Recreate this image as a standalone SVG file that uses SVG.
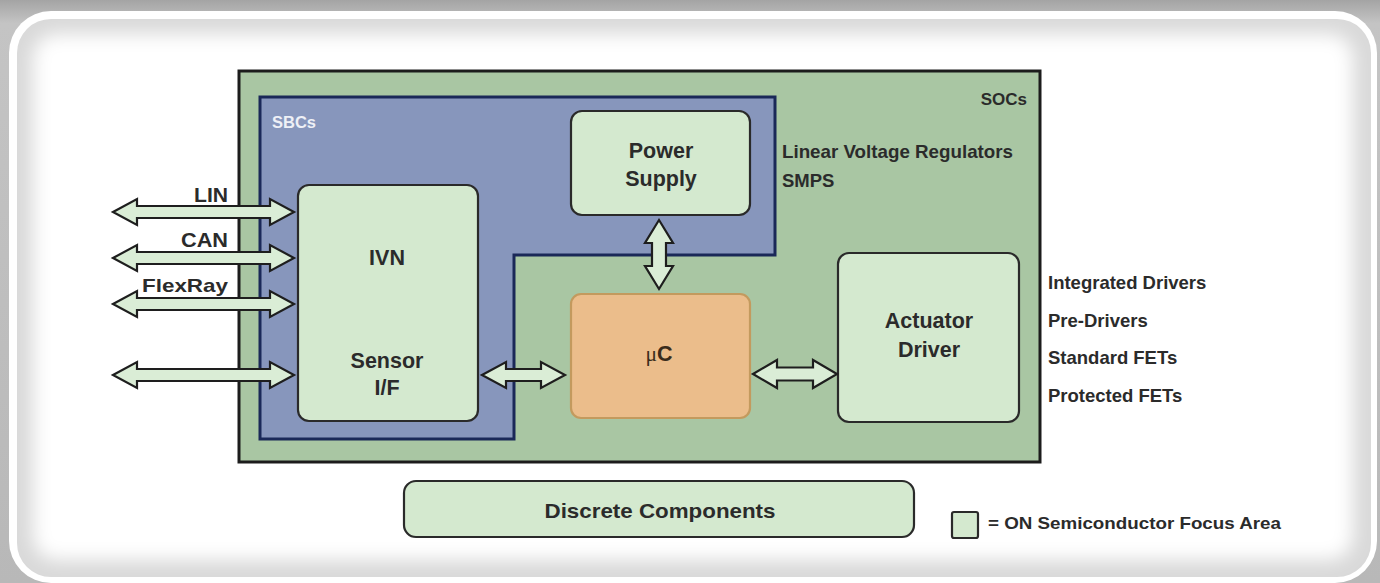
<svg xmlns="http://www.w3.org/2000/svg" width="1380" height="583" viewBox="0 0 1380 583">
<defs>
<linearGradient id="bgGray" x1="0" y1="0" x2="0" y2="1">
<stop offset="0" stop-color="#a4a4a4"/>
<stop offset="0.04" stop-color="#c4c4c4"/>
<stop offset="1" stop-color="#b8b8b8"/>
</linearGradient>
<filter id="soft" x="-10%" y="-10%" width="120%" height="120%">
<feGaussianBlur stdDeviation="9"/>
</filter>
<style>
.t{font-family:"Liberation Sans",Arial,sans-serif;font-weight:bold;fill:#2b2b2b}
.lbl{font-size:18.5px}
.box{font-size:21.5px;text-anchor:middle}
.soc{fill:#a9c6a3;stroke:#1c1c1c;stroke-width:3}
.sbc{fill:#8796bc;stroke:#1a2858;stroke-width:3}
.node{fill:#d4e9cf;stroke:#2a2a2a;stroke-width:2.2}
.mc{fill:#ebbd8b;stroke:#c39a5e;stroke-width:2.2}
.arr{fill:#daedd6;stroke:#1e1e1e;stroke-width:2.2;stroke-linejoin:miter}
</style>
</defs>

<!-- frame -->
<rect x="0" y="0" width="1380" height="583" fill="url(#bgGray)"/>
<rect x="9" y="11" width="1368" height="572" rx="42" fill="#ffffff"/>
<rect x="17" y="19" width="1354" height="558" rx="34" fill="#d9d9d9"/>
<rect x="33" y="34" width="1320" height="526" rx="24" fill="#ffffff" filter="url(#soft)"/>

<!-- containers -->
<g id="socs">
<rect class="soc" x="239" y="71" width="801" height="391"/>
<text class="t" x="1027" y="105" font-size="17" text-anchor="end">SOCs</text>
</g>
<g id="sbcs">
<polygon class="sbc" points="260,97 775,97 775,255 514,255 514,439 260,439"/>
<text class="t" x="272" y="128" font-size="16.5" style="fill:#eef0f6">SBCs</text>
</g>

<g id="ivn">
<rect class="node" x="298" y="185" width="180" height="236" rx="11"/>
<text class="t box" x="387" y="265">IVN</text>
<text class="t box" x="387" y="368">Sensor</text>
<text class="t box" x="387" y="395">I/F</text>
</g>

<g id="power-supply">
<rect class="node" x="571" y="111" width="179" height="104" rx="11"/>
<text class="t box" x="661" y="158">Power</text>
<text class="t box" x="661" y="186">Supply</text>
</g>

<g id="uc">
<rect class="mc" x="571" y="294" width="179" height="124" rx="10"/>
<text class="t box" x="659" y="361" style="fill:#3a2c1c"><tspan font-weight="normal" font-family="'Liberation Serif',serif">μ</tspan>C</text>
</g>

<g id="actuator-driver">
<rect class="node" x="838" y="253" width="181" height="169" rx="11"/>
<text class="t box" x="929" y="328">Actuator</text>
<text class="t box" x="929" y="357">Driver</text>
</g>

<g id="discrete-components">
<rect class="node" x="404" y="481" width="510" height="56" rx="12"/>
<text class="t" x="660" y="518" font-size="21" text-anchor="middle" textLength="231" lengthAdjust="spacingAndGlyphs">Discrete Components</text>
</g>

<g id="legend">
<rect class="node" x="952" y="512" width="26" height="26" rx="2"/>
<text class="t" x="988" y="529" font-size="16.5" textLength="293" lengthAdjust="spacingAndGlyphs">= ON Semiconductor Focus Area</text>
</g>

<!-- side labels -->
<g id="regulator-labels">
<text class="t lbl" x="782" y="158" textLength="231" lengthAdjust="spacingAndGlyphs">Linear Voltage Regulators</text>
<text class="t lbl" x="782" y="187">SMPS</text>
</g>
<g id="driver-labels">
<text class="t lbl" x="1048" y="289">Integrated Drivers</text>
<text class="t lbl" x="1048" y="327">Pre-Drivers</text>
<text class="t lbl" x="1048" y="364">Standard FETs</text>
<text class="t lbl" x="1048" y="402">Protected FETs</text>
</g>

<!-- connectors -->
<g id="connectors">
<path class="arr" d="M113,212 L137,199 L137,206 L270,206 L270,199 L294,212 L270,225 L270,218 L137,218 L137,225 Z"/>
<path class="arr" d="M113,258 L137,245 L137,252 L270,252 L270,245 L294,258 L270,271 L270,264 L137,264 L137,271 Z"/>
<path class="arr" d="M113,304 L137,291 L137,298 L270,298 L270,291 L294,304 L270,317 L270,310 L137,310 L137,317 Z"/>
<path class="arr" d="M113,375 L137,362 L137,369 L270,369 L270,362 L294,375 L270,388 L270,381 L137,381 L137,388 Z"/>
<path class="arr" d="M482,375 L506,362 L506,369 L541,369 L541,362 L565,375 L541,388 L541,381 L506,381 L506,388 Z"/>
<path class="arr" d="M753,374 L777,360 L777,367.5 L813,367.5 L813,360 L837,374 L813,388 L813,380.5 L777,380.5 L777,388 Z"/>
<path class="arr" d="M659,220 L673,243 L666,243 L666,266 L673,266 L659,289 L645,266 L652,266 L652,243 L645,243 Z"/>
<text class="t" x="228" y="202" font-size="20" text-anchor="end" textLength="34" lengthAdjust="spacingAndGlyphs">LIN</text>
<text class="t" x="228" y="247" font-size="20" text-anchor="end" textLength="47" lengthAdjust="spacingAndGlyphs">CAN</text>
<text class="t" x="228" y="292" font-size="19" text-anchor="end" textLength="86" lengthAdjust="spacingAndGlyphs">FlexRay</text>
</g>
</svg>
